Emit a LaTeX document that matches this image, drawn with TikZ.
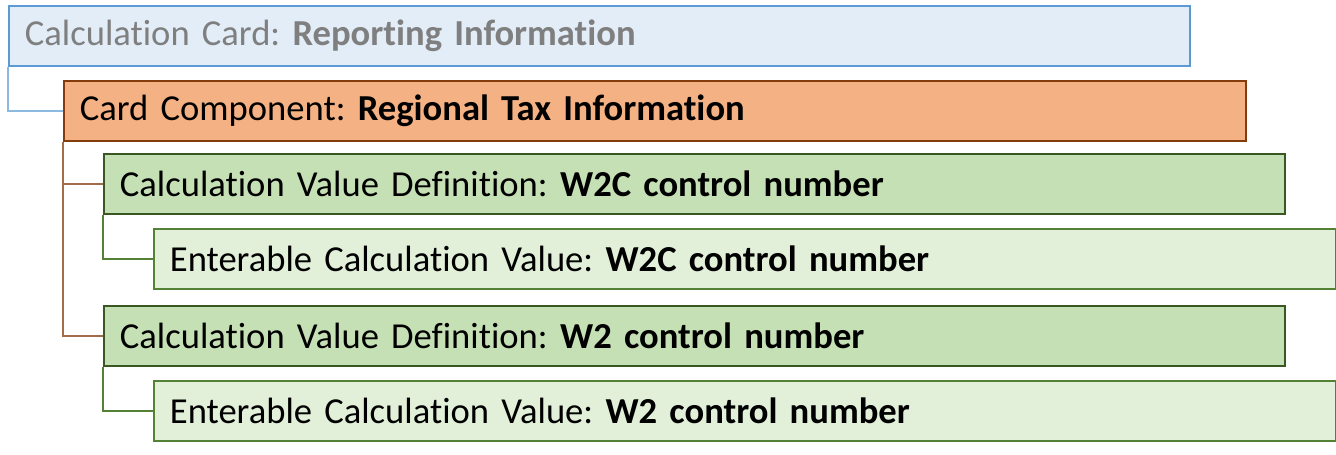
\documentclass[tikz,border=0pt]{standalone}
\usepackage{fontspec}
\setmainfont{Carlito}[Ligatures=NoCommon]
\usepackage{xcolor}
\usetikzlibrary{positioning}
\frenchspacing
\definecolor{cardfill}{HTML}{E2EDF8}
\definecolor{carddraw}{HTML}{5B9BD5}
\definecolor{cardtext}{HTML}{7F7F7F}
\definecolor{compfill}{HTML}{F4B183}
\definecolor{compdraw}{HTML}{843C0C}
\definecolor{deffill}{HTML}{C5E0B4}
\definecolor{defdraw}{HTML}{385723}
\definecolor{entfill}{HTML}{E2F0D9}
\definecolor{entdraw}{HTML}{548235}

\begin{document}
\begin{tikzpicture}
[x = 1pt, y = -1pt,
 box/.style = {rectangle, anchor=north west, minimum height=60pt, inner xsep=16pt, inner ysep=0pt, align=left, font=\fontsize{36.6}{42}\selectfont, line width=1.8pt},
 cardbox/.style = {box, text width=1149pt, draw=carddraw, fill=cardfill, text=cardtext},
 compbox/.style = {box, text width=1150pt, draw=compdraw, fill=compfill},
 defbox/.style = {box, text width=1149pt, draw=defdraw, fill=deffill},
 entbox/.style = {box, text width=1150pt, draw=entdraw, fill=entfill},
 link/.style = {line width=1.2pt}]
\useasboundingbox (0,0) rectangle (1336,455);
\node[cardbox] (card) at (8,5) {Calculation Card: \textbf{Reporting Information}};
\node[compbox] (comp) at (63,80) {Card Component: \textbf{Regional Tax Information}};
\node[defbox] (def1) at (103,153) {Calculation Value Definition: \textbf{W2C control number}};
\node[entbox] (ent1) at (153,228) {Enterable Calculation Value: \textbf{W2C control number}};
\node[defbox] (def2) at (103,305) {Calculation Value Definition: \textbf{W2 control number}};
\node[entbox] (ent2) at (153,380) {Enterable Calculation Value: \textbf{W2 control number}};

\draw[link, draw=carddraw!70] (card.south west) |- (comp.west);
\draw[link, draw=compdraw!75] (comp.south west) |- (def1.west);
\draw[link, draw=compdraw!75] (comp.south west) |- (def2.west);
\draw[link, draw=entdraw] (def1.south west) |- (ent1.west);
\draw[link, draw=entdraw] (def2.south west) |- (ent2.west);

\end{tikzpicture}
\end{document}
